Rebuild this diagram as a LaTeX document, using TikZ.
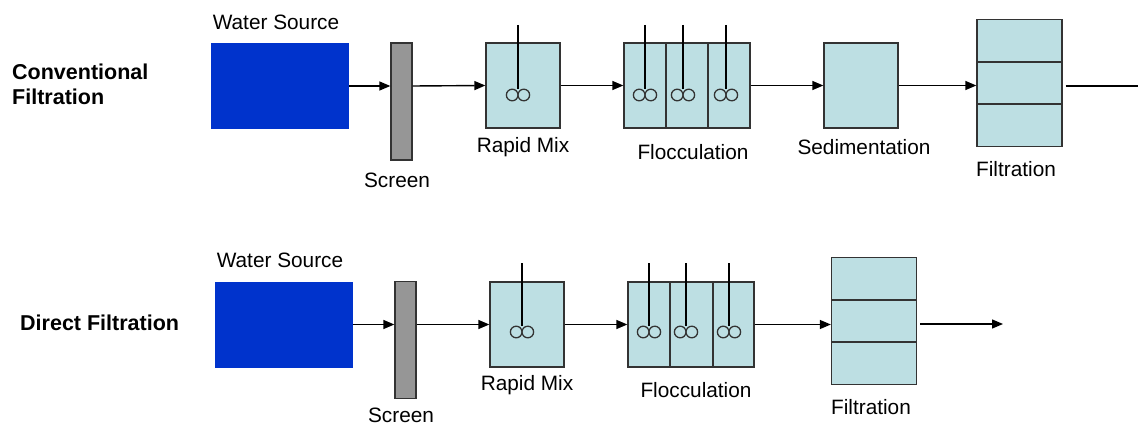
\documentclass[tikz,border=0pt]{standalone}
\usepackage{fontspec}
\setmainfont{Liberation Sans}
\usetikzlibrary{arrows.meta}

\definecolor{srcblue}{HTML}{0033CC}
\definecolor{tankfill}{HTML}{BDDFE3}
\definecolor{screengray}{HTML}{969696}
\definecolor{edgegray}{HTML}{333333}

\tikzset{
  source/.style={rectangle, fill=srcblue, inner sep=0pt, minimum width=138pt, minimum height=86pt},
  screenbar/.style={rectangle, draw=edgegray, fill=screengray, line width=1.3pt, inner sep=0pt, minimum width=21pt, minimum height=117pt},
  tank/.style={rectangle, draw=edgegray, fill=tankfill, line width=1.3pt, inner sep=0pt, minimum width=74pt, minimum height=85pt},
  floctank/.style={tank, minimum width=126pt},
  filterbox/.style={tank, minimum width=85pt, minimum height=127pt},
  lbl/.style={font=\fontsize{20.8}{24}\selectfont, inner sep=0pt},
  rowtitle/.style={font=\fontsize{21.5}{25}\selectfont\bfseries, inner sep=0pt, align=left, anchor=west},
  flow/.style={line width=1.4pt, -{Triangle[length=11pt,width=9pt]}},
  shaft/.style={line width=1.3pt},
  blade/.style={line width=1.3pt, draw=edgegray}
}

\begin{document}
\begin{tikzpicture}[x=1pt, y=-1pt]
    \useasboundingbox (0,0) rectangle (1138,425);

    % conventional filtration
    \node[rowtitle] (title1) at (12,84.5) {Conventional\\Filtration};
    \node[source] (src1) at (280,86) {};
    \node[screenbar] (scr1) at (401.5,101.5) {};
    \node[tank] (mix1) at (523,85.5) {};
    \node[floctank] (floc1) at (687,85.5) {};
    \node[tank] (sed1) at (861,85.5) {};
    \node[filterbox] (fil1) at (1019.5,83) {};
    \coordinate (end1) at (1140,86);

    \draw[line width=1.3pt, edgegray] (666,43) -- (666,128);
    \draw[line width=1.3pt, edgegray] (708,43) -- (708,128);
    \draw[line width=1.3pt, edgegray] (fil1.west |- 0,62) -- (fil1.east |- 0,62);
    \draw[line width=1.3pt, edgegray] (fil1.west |- 0,104) -- (fil1.east |- 0,104);

    \foreach \x in {518,645,683,726}{
        \draw[shaft] (\x,25) -- (\x,89);
        \draw[blade] (\x-5.8,95) circle (5.8pt) (\x+5.8,95) circle (5.8pt);
    }

    \draw[flow] (src1.east) -- (src1.east -| scr1.west);
    \draw[flow] (scr1.east |- src1.east) -- (mix1.west);
    \draw[flow] (mix1.east) -- (floc1.west);
    \draw[flow] (floc1.east) -- (sed1.west);
    \draw[flow] (sed1.east) -- (sed1.east -| fil1.west);
    \draw[line width=1.4pt] ([xshift=3pt]fil1.east |- end1) -- (end1);

    \node[lbl] (srclbl1) at (276,22) {Water Source};
    \node[lbl] (scrlbl1) at (397,180) {Screen};
    \node[lbl] (mixlbl1) at (523,147) {Rapid Mix};
    \node[lbl] (floclbl1) at (693,152) {Flocculation};
    \node[lbl] (sedlbl1) at (864,147) {Sedimentation};
    \node[lbl] (fillbl1) at (1016,169) {Filtration};

    % direct filtration
    \node[rowtitle] (title2) at (20,323) {Direct Filtration};
    \node[source] (src2) at (283.5,324.5) {};
    \node[screenbar] (scr2) at (405.5,340) {};
    \node[tank] (mix2) at (527,324.5) {};
    \node[floctank] (floc2) at (691,324.5) {};
    \node[filterbox] (fil2) at (874,321) {};
    \coordinate (end2) at (1003,324);

    \draw[line width=1.3pt, edgegray] (670,282) -- (670,367);
    \draw[line width=1.3pt, edgegray] (713,282) -- (713,367);
    \draw[line width=1.3pt, edgegray] (fil2.west |- 0,300) -- (fil2.east |- 0,300);
    \draw[line width=1.3pt, edgegray] (fil2.west |- 0,342) -- (fil2.east |- 0,342);

    \foreach \x in {522,649,686,729}{
        \draw[shaft] (\x,263) -- (\x,326);
        \draw[blade] (\x-5.8,332) circle (5.8pt) (\x+5.8,332) circle (5.8pt);
    }

    \draw[flow] (src2.east) -- (src2.east -| scr2.west);
    \draw[flow] (scr2.east |- src2.east) -- (mix2.west);
    \draw[flow] (mix2.east) -- (floc2.west);
    \draw[flow] (floc2.east) -- (floc2.east -| fil2.west);
    \draw[flow] ([xshift=3pt]fil2.east |- end2) -- (end2);

    \node[lbl] (srclbl2) at (280,260) {Water Source};
    \node[lbl] (scrlbl2) at (401,415) {Screen};
    \node[lbl] (mixlbl2) at (527,385) {Rapid Mix};
    \node[lbl] (floclbl2) at (696,390) {Flocculation};
    \node[lbl] (fillbl2) at (871,407) {Filtration};
\end{tikzpicture}
\end{document}
